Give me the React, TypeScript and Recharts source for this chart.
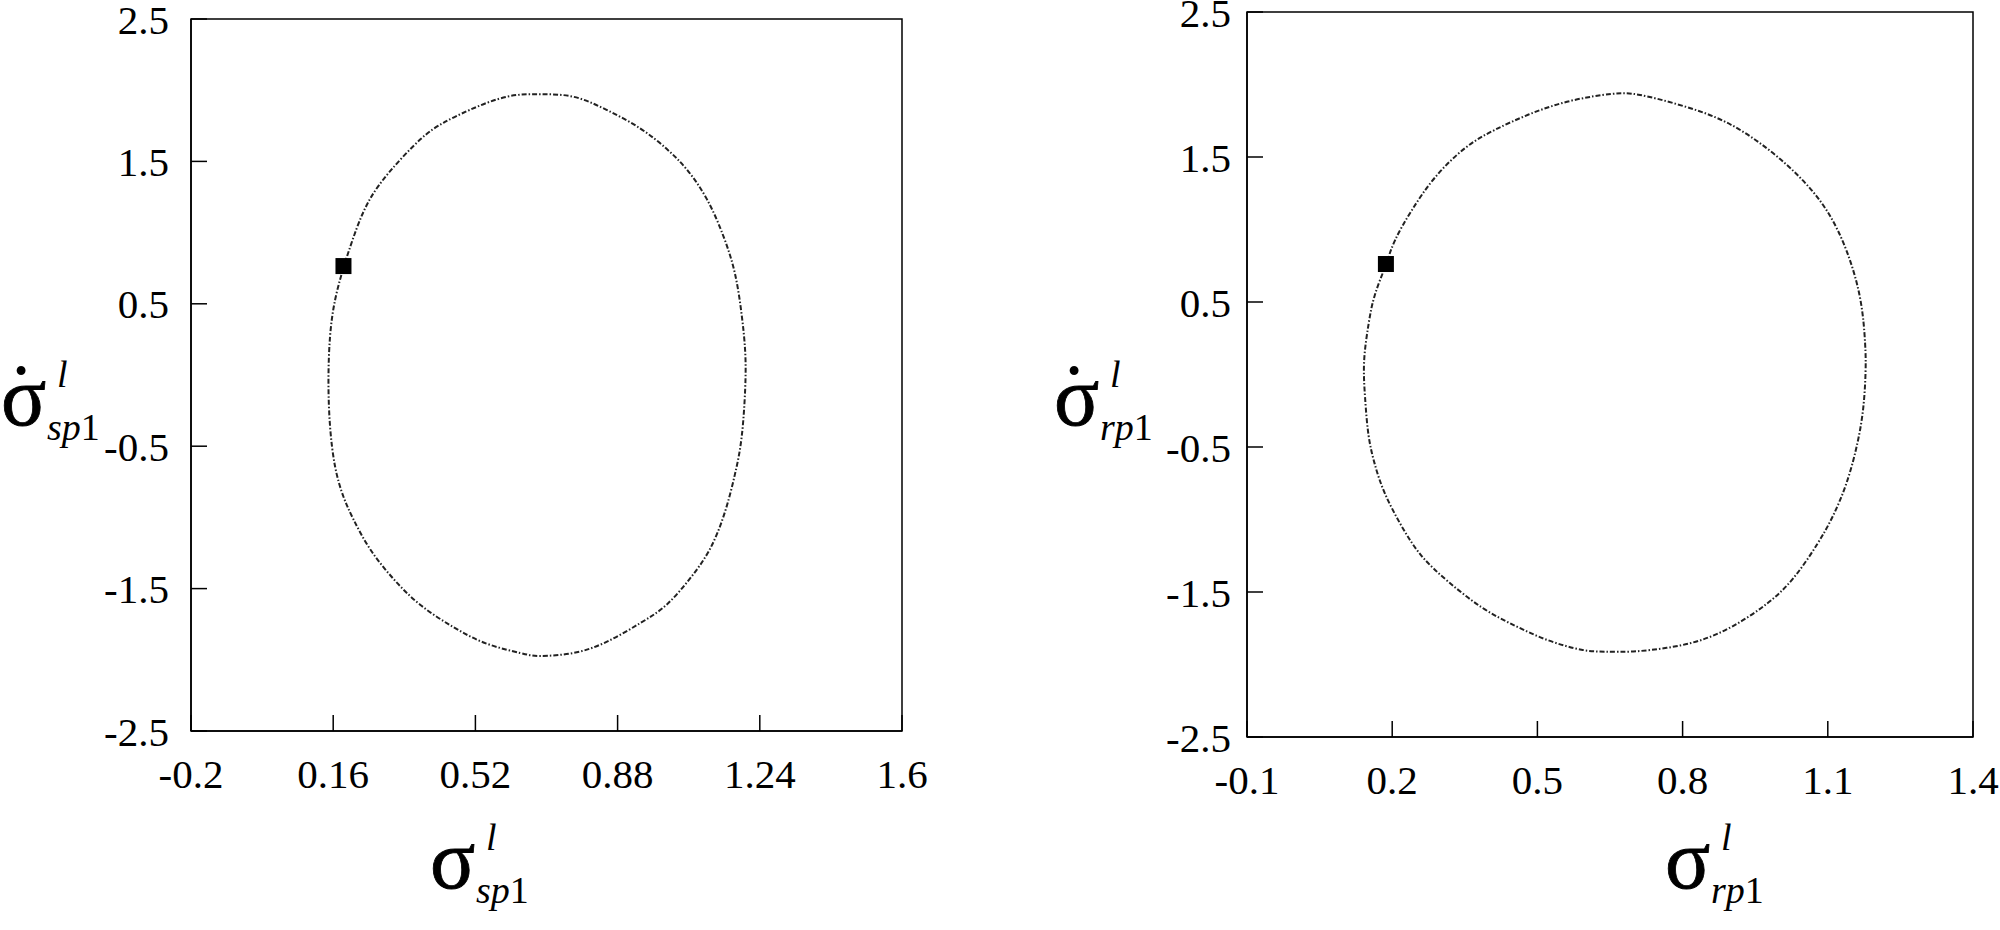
import React from 'react';
import { ComposedChart, Line, Scatter, XAxis, YAxis, ReferenceArea } from 'recharts';

const FONT = '"Liberation Serif", "Times New Roman", serif';

// Left panel: sigma^l_sp1 (x) vs sigma-dot^l_sp1 (y), closed loop, starting at the marked point
const sigmaSp1 = [
  0.187, 0.219, 0.253, 0.304, 0.380, 0.439, 0.506, 0.599, 0.684, 0.768, 0.852, 0.937,
  1.004, 1.055, 1.106, 1.148, 1.177, 1.194, 1.203, 1.203, 1.194, 1.177, 1.152, 1.114,
  1.063, 1.004, 0.937, 0.852, 0.768, 0.684, 0.633, 0.549, 0.464, 0.380, 0.312, 0.253,
  0.211, 0.186, 0.165, 0.152, 0.148, 0.152, 0.165, 0.187,
];
const sigmaDotSp1 = [
  0.765, 1.026, 1.235, 1.431, 1.653, 1.771, 1.862, 1.954, 1.972, 1.954, 1.862, 1.732,
  1.588, 1.444, 1.235, 0.974, 0.713, 0.425, 0.164, -0.097, -0.437, -0.698, -0.960, -1.221,
  -1.430, -1.613, -1.743, -1.874, -1.952, -1.973, -1.952, -1.887, -1.770, -1.613, -1.430, -1.221,
  -1.012, -0.855, -0.646, -0.359, -0.045, 0.269, 0.530, 0.765,
];
const markerSp1 = [{ x: 0.186, y: 0.765 }];

// Right panel: sigma^l_rp1 (x) vs sigma-dot^l_rp1 (y)
const sigmaRp1 = [
  0.188, 0.206, 0.240, 0.288, 0.350, 0.412, 0.488, 0.571, 0.653, 0.712, 0.801, 0.891,
  0.974, 1.043, 1.098, 1.139, 1.167, 1.177, 1.178, 1.173, 1.160, 1.139, 1.111, 1.077,
  1.029, 0.974, 0.905, 0.836, 0.767, 0.698, 0.640, 0.591, 0.523, 0.454, 0.385, 0.316,
  0.261, 0.220, 0.185, 0.164, 0.151, 0.144, 0.142, 0.151, 0.164, 0.188,
];
const sigmaDotRp1 = [
  0.762, 0.927, 1.130, 1.357, 1.560, 1.687, 1.801, 1.889, 1.935, 1.928, 1.852, 1.738,
  1.560, 1.357, 1.130, 0.851, 0.522, 0.218, 0.015, -0.238, -0.491, -0.745, -0.973, -1.176,
  -1.404, -1.581, -1.733, -1.834, -1.885, -1.910, -1.912, -1.898, -1.834, -1.733, -1.606, -1.429,
  -1.252, -1.049, -0.821, -0.618, -0.416, -0.162, 0.091, 0.344, 0.547, 0.762,
];
const markerRp1 = [{ x: 0.187, y: 0.762 }];

const xTicksLeft = [-0.2, 0.16, 0.52, 0.88, 1.24, 1.6];
const xTicksRight = [-0.1, 0.2, 0.5, 0.8, 1.1, 1.4];
const yTicks = [-2.5, -1.5, -0.5, 0.5, 1.5, 2.5];

const toPoints = (xs: number[], ys: number[]) => xs.map((x, i) => ({ x, y: ys[i] }));
const curveSp1 = toPoints(sigmaSp1, sigmaDotSp1);
const curveRp1 = toPoints(sigmaRp1, sigmaDotRp1);

const tickStyle = { fontFamily: FONT, fontSize: 41, fill: '#000' };
const lineStyle = { stroke: '#000', strokeWidth: 1.5 };

function SigmaTitle({ x, y, dot, sub }: { x: number; y: number; dot: boolean; sub: string }) {
  return (
    <g fontFamily={FONT} fill="#000">
      <text x={x} y={y} fontSize={84}>
        <tspan stroke="#000" strokeWidth={0.8}>{'\u03C3'}</tspan>
        {dot ? (
          <tspan x={x + 20} y={y - 3} textAnchor="middle">{'\u02D9'}</tspan>
        ) : null}
      </text>
      <text x={x + 56} y={y - 38} fontSize={38} fontStyle="italic">l</text>
      <text x={x + 46} y={y + 15} fontSize={38}>
        <tspan fontStyle="italic">{sub}</tspan>1
      </text>
    </g>
  );
}

const squareShape = (props: any) => (
  <rect x={props.cx - 8} y={props.cy - 8} width={16} height={16} fill="#000" />
);

function Panel({
  curve, marker, xTicks, margin, yAxisWidth, yTickMargin, xTitle, yTitle, sub,
}: any) {
  const xDomain = [xTicks[0], xTicks[xTicks.length - 1]];
  return (
    <ComposedChart width={1000} height={930} margin={margin}>
      <XAxis
        type="number"
        dataKey="x"
        domain={xDomain}
        ticks={xTicks}
        allowDataOverflow
        height={80}
        tickSize={-16}
        tickMargin={44}
        tick={tickStyle}
        axisLine={lineStyle}
        tickLine={lineStyle}
        interval={0}
        label={(p: any) => {
          const vb = p.viewBox;
          return <SigmaTitle x={vb.x + xTitle[0]} y={vb.y + xTitle[1]} dot={false} sub={sub} />;
        }}
      />
      <YAxis
        type="number"
        dataKey="y"
        domain={[-2.5, 2.5]}
        ticks={yTicks}
        allowDataOverflow
        width={yAxisWidth}
        tickSize={-16}
        tickMargin={yTickMargin}
        tick={tickStyle}
        axisLine={lineStyle}
        tickLine={lineStyle}
        interval={0}
        label={(p: any) => {
          const vb = p.viewBox;
          return <SigmaTitle x={vb.x + yTitle[0]} y={vb.y + yTitle[1]} dot={true} sub={sub} />;
        }}
      />
      <ReferenceArea
        x1={xDomain[0]}
        x2={xDomain[1]}
        y1={-2.5}
        y2={2.5}
        fill="none"
        fillOpacity={0}
        stroke="#000"
        strokeWidth={1.5}
      />
      <Line
        data={curve}
        dataKey="y"
        type="natural"
        stroke="#222"
        strokeWidth={2}
        strokeDasharray="5 2 1.5 2"
        dot={false}
        activeDot={false}
        isAnimationActive={false}
      />
      <Scatter data={marker} dataKey="y" shape={squareShape} isAnimationActive={false} />
    </ComposedChart>
  );
}

export default function App() {
  return (
    <div style={{ position: 'absolute', left: 0, top: 0, width: 2000, height: 930, background: '#fff' }}>
      <div style={{ position: 'absolute', left: 0, top: 0 }}>
        <Panel
          curve={curveSp1}
          marker={markerSp1}
          xTicks={xTicksLeft}
          margin={{ top: 19, right: 98, bottom: 119, left: 0 }}
          yAxisWidth={191}
          yTickMargin={38}
          xTitle={[239, 157]}
          yTitle={[1, 406]}
          sub="sp"
        />
      </div>
      <div style={{ position: 'absolute', left: 1000, top: 0 }}>
        <Panel
          curve={curveRp1}
          marker={markerRp1}
          xTicks={xTicksRight}
          margin={{ top: 12, right: 27, bottom: 113, left: 0 }}
          yAxisWidth={247}
          yTickMargin={32}
          xTitle={[418, 151]}
          yTitle={[54, 413]}
          sub="rp"
        />
      </div>
    </div>
  );
}
